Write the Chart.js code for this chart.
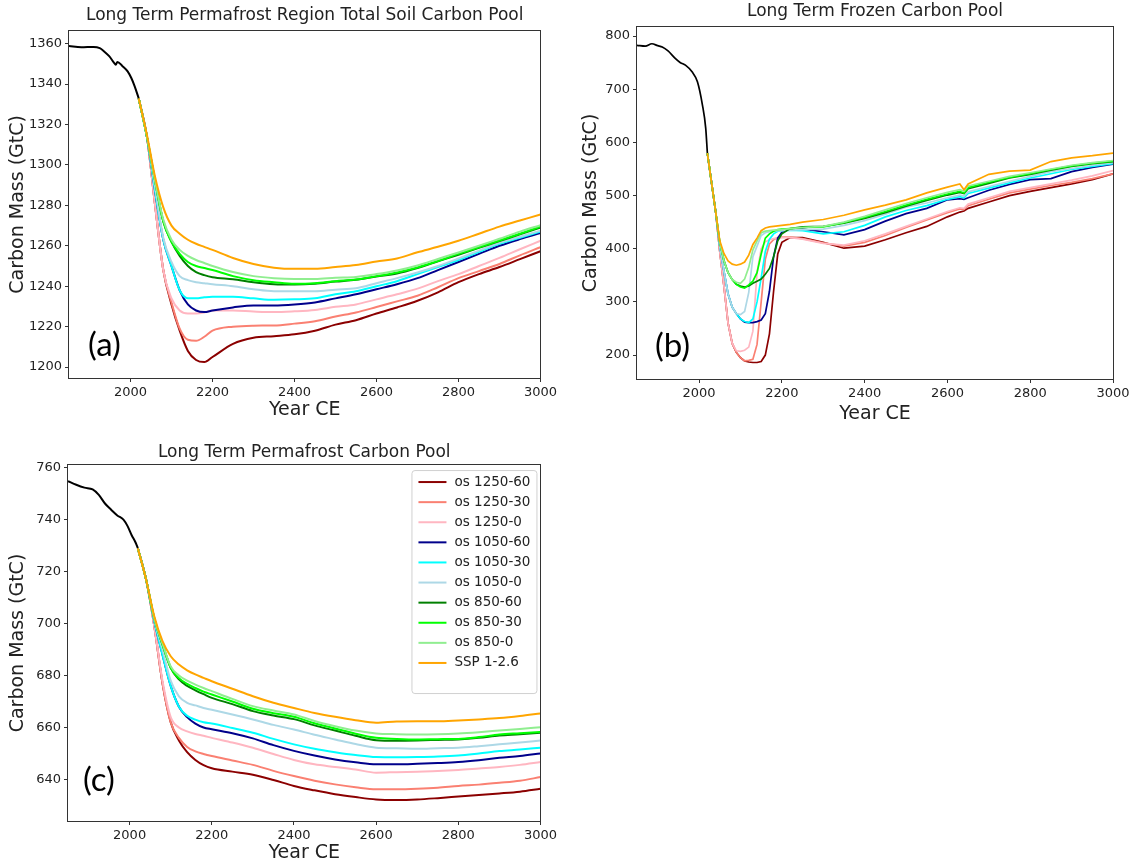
<!DOCTYPE html>
<html>
<head>
<meta charset="utf-8">
<title>Long Term Permafrost Carbon Pools</title>
<script src="https://cdn.jsdelivr.net/npm/chart.js@4.4.1/dist/chart.umd.min.js"></script>
<style>
body { margin: 0; background: #fff; }
#wrap { position: relative; width: 1137px; height: 865px; }
#wrap canvas { position: absolute; }
</style>
</head>
<body>
<div id="wrap">
<canvas id="chartA" width="560" height="425" style="left:0;top:0"></canvas>
<canvas id="chartB" width="567" height="430" style="left:570px;top:0"></canvas>
<canvas id="chartC" width="560" height="435" style="left:0;top:430px"></canvas>
</div>
<script>
// scenario names and colours, same order for all three panels
var labels = ['os 1250-60', 'os 1250-30', 'os 1250-0', 'os 1050-60', 'os 1050-30', 'os 1050-0',
              'os 850-60', 'os 850-30', 'os 850-0', 'SSP 1-2.6'];
var colors = ['#8b0000', '#fa8072', '#ffb6c1', '#00008b', '#00ffff', '#add8e6',
              '#008000', '#00ff00', '#90ee90', '#ffa500'];
var xTicks = [2000, 2200, 2400, 2600, 2800, 3000];

// (a) permafrost region total soil carbon (GtC)
var soilHistYears = [1850, 1880, 1910, 1925, 1935, 1948, 1960, 1964, 1968, 1980, 1993, 2002, 2010, 2020];
var soilHist = [1358.8, 1358.2, 1358.4, 1357.8, 1356.3, 1353.8, 1350.5, 1349.6, 1351, 1349, 1346.3, 1343, 1339, 1333];
var soilYears = [2020, 2040, 2060, 2080, 2100, 2120, 2140, 2160, 2180, 2200, 2250, 2300, 2350, 2400, 2450, 2500,
                 2550, 2600, 2650, 2700, 2750, 2800, 2850, 2900, 2950, 3000];
var soil1250_60 = [1333, 1314, 1280, 1248, 1231, 1218, 1208, 1203.5, 1202.5, 1205, 1211.5, 1214.5, 1215.3, 1216.2, 1218, 1221, 1223.2, 1226.5, 1229.5, 1232.8, 1237, 1242, 1246, 1249.5, 1253.4, 1257.3];
var soil1250_30 = [1333, 1314, 1280, 1248, 1232, 1219, 1213.5, 1213, 1215, 1218, 1220, 1220.5, 1220.6, 1221.5, 1222.7, 1225, 1227, 1229.7, 1232.5, 1235.3, 1239.5, 1244, 1247.5, 1251, 1255.3, 1259.3];
var soil1250_0 = [1333, 1314, 1280, 1248, 1234, 1228, 1226.5, 1226.5, 1227, 1228, 1228, 1227.5, 1227.2, 1227.6, 1228.3, 1229.8, 1231, 1233.5, 1236, 1238.8, 1242.5, 1246, 1250, 1254, 1258.3, 1262.5];
var soil1050_60 = [1333, 1314, 1287, 1263, 1250, 1238, 1231, 1228, 1227.2, 1228, 1229.5, 1230.5, 1230.5, 1231, 1232, 1234, 1236, 1238.5, 1241, 1244, 1248, 1252, 1256, 1260, 1263.3, 1266.3];
var soil1050_30 = [1333, 1314, 1287, 1263, 1250, 1238, 1234, 1234, 1234.5, 1234.8, 1234.8, 1234, 1233.3, 1233.5, 1234, 1236, 1237.5, 1240, 1242.5, 1246, 1249.5, 1253, 1257, 1261, 1264, 1267];
var soil1050_0 = [1333, 1314, 1289, 1264, 1252, 1245, 1243, 1242, 1241.5, 1241, 1240, 1238.5, 1237.5, 1237.5, 1237.5, 1238.3, 1239, 1241.5, 1244, 1246.8, 1250, 1253.7, 1257.6, 1261.5, 1264.5, 1267.5];
var soil850_60 = [1333, 1314, 1292, 1272, 1262, 1255, 1250, 1247, 1245.5, 1244.5, 1243.5, 1242, 1241, 1240.8, 1241.2, 1242.3, 1243.2, 1244.8, 1246.3, 1249, 1252.3, 1255.6, 1259, 1262.3, 1265.7, 1269];
var soil850_30 = [1333, 1314, 1292, 1272, 1262, 1256, 1252, 1250, 1249, 1248, 1245, 1243, 1242, 1241.2, 1241.5, 1242.5, 1243.3, 1245, 1246.8, 1249.3, 1252.5, 1256, 1259.3, 1262.6, 1266, 1269.5];
var soil850_0 = [1333, 1314, 1292, 1273, 1263, 1258, 1255, 1253, 1251.5, 1250, 1247, 1245, 1244, 1243.6, 1243.6, 1244.2, 1244.6, 1246, 1247.8, 1250.3, 1253.5, 1256.7, 1260, 1263.5, 1267, 1270.2];
var soilSsp = [1333, 1315, 1294, 1279, 1270, 1266, 1263, 1261, 1259.5, 1258, 1254, 1251, 1249.2, 1248.6, 1248.6, 1249.5, 1250.5, 1252.2, 1253.7, 1256.8, 1259.5, 1262.5, 1266, 1269.5, 1272.5, 1275.5];

// (b) frozen carbon (GtC)
var frozenHistYears = [1850, 1870, 1886, 1900, 1911, 1925, 1943, 1955, 1967, 1983, 1996, 2008, 2016, 2020];
var frozenHist = [782.6, 781, 785.6, 782, 779.5, 772, 757.7, 750, 745.3, 732.8, 714, 670.7, 627, 580];
var frozenYears = [2020, 2030, 2040, 2050, 2060, 2070, 2080, 2090, 2100, 2110, 2120, 2130, 2140, 2150, 2160, 2170,
                   2180, 2190, 2200, 2220, 2250, 2300, 2350, 2400, 2450, 2500, 2550, 2600, 2630, 2640, 2650, 2700,
                   2750, 2800, 2850, 2900, 2950, 3000];
var frozen1250_60 = [580, 525, 470, 395, 330, 260, 222, 205, 195, 189, 187, 186, 186, 188, 200, 240, 320, 390, 412, 421, 421, 412, 401, 405, 417, 430, 442, 460, 469, 471, 476, 488, 500, 508, 515, 522, 530, 541];
var frozen1250_30 = [580, 525, 470, 395, 330, 260, 222, 205, 195, 189, 190, 192, 220, 300, 380, 409, 417, 421, 422, 422, 419, 411, 405, 412, 425, 440, 454, 468, 475, 474, 481, 493, 505, 512, 519, 525, 532, 541];
var frozen1250_0 = [580, 525, 470, 395, 330, 260, 222, 208, 207, 209, 215, 245, 355, 400, 413, 417, 419, 420, 421, 421, 418, 410, 407, 415, 428, 442, 456, 470, 477, 476, 484, 496, 508, 515, 522, 529, 537, 547];
var frozen1050_60 = [580, 525, 470, 405, 358, 315, 290, 278, 268, 262, 261, 261, 263, 266, 278, 320, 385, 420, 431, 437, 437, 432, 426, 436, 452, 466, 476, 492, 494, 493, 496, 510, 521, 530, 532, 545, 553, 559];
var frozen1050_30 = [580, 525, 470, 405, 358, 315, 290, 278, 268, 263, 261, 268, 300, 345, 395, 418, 428, 433, 434, 435, 434, 428, 432, 444, 460, 472, 481, 493, 498, 496, 504, 514, 524, 533, 541, 549, 555, 560];
var frozen1050_0 = [580, 525, 470, 405, 358, 315, 290, 278, 276, 282, 318, 385, 405, 425, 430, 432, 433, 434, 434, 435, 436, 437, 444, 453, 465, 478, 486, 496, 501, 499, 507, 517, 527, 536, 545, 551, 557, 562];
var frozen850_60 = [580, 525, 470, 412, 378, 355, 342, 333, 330, 328, 330, 335, 339, 343, 352, 363, 385, 415, 428, 438, 441, 442, 448, 457, 468, 480, 491, 501, 506, 504, 513, 523, 533, 540, 548, 555, 560, 564];
var frozen850_30 = [580, 525, 470, 412, 378, 355, 342, 333, 328, 326, 332, 339, 355, 390, 420, 428, 433, 436, 437, 438, 440, 441, 449, 459, 470, 482, 493, 503, 508, 505, 515, 525, 534, 541, 549, 556, 561, 565];
var frozen850_0 = [580, 525, 470, 412, 378, 355, 342, 337, 335, 343, 365, 398, 415, 430, 433, 434, 435, 435.5, 436, 438, 440, 442, 450, 461, 473, 485, 496, 506, 511, 508, 518, 527, 536, 543, 550, 557, 562, 566];
var frozenSsp = [580, 525, 470, 415, 391, 377, 371, 369, 371, 375, 388, 408, 420, 434, 439, 441, 442, 443, 444, 446, 450, 455, 463, 473, 482, 492, 505, 516, 522, 511, 522, 540, 546, 548, 564, 571, 575, 580];

// (c) permafrost carbon (GtC)
var permaHistYears = [1850, 1870, 1890, 1910, 1925, 1940, 1955, 1970, 1985, 1995, 2005, 2015, 2020];
var permaHist = [754.8, 753.4, 752.3, 751.6, 749.5, 746.2, 743.8, 741.6, 740, 737.5, 734, 731, 729];
var permaYears = [2020, 2040, 2060, 2080, 2100, 2120, 2140, 2160, 2180, 2200, 2250, 2300, 2350, 2400, 2450, 2500,
                  2550, 2600, 2650, 2700, 2750, 2800, 2850, 2900, 2950, 3000];
var perma1250_60 = [729, 717, 699, 677, 662, 655, 650.5, 647.5, 645.5, 644.3, 643, 641.8, 639.8, 637.5, 635.8, 634.3, 633.2, 632.3, 632.1, 632.3, 632.8, 633.4, 634, 634.6, 635.3, 636.4];
var perma1250_30 = [729, 717, 699, 677, 662, 656, 652.5, 650.8, 649.8, 649, 647.3, 645.6, 643.3, 641.3, 639.5, 638.1, 637, 636.2, 636.2, 636.4, 636.8, 637.5, 638, 638.7, 639.5, 640.9];
var perma1250_0 = [729, 717, 699, 678, 664, 660, 658.5, 657.5, 656.8, 656, 654.2, 652.2, 649.8, 647.5, 645.8, 644.8, 643.8, 642.6, 642.8, 643, 643.2, 643.6, 644.2, 644.8, 645.6, 646.7];
var perma1050_60 = [729, 717, 701, 688, 676, 668, 664, 661.5, 660, 659.3, 657.8, 655.8, 653.2, 651, 649.2, 647.7, 646.6, 645.8, 645.8, 646, 646.3, 646.7, 647.4, 648.3, 649, 650];
var perma1050_30 = [729, 717, 701, 688, 676, 668, 664.5, 663, 662, 661.5, 659.8, 658, 655.6, 653.5, 651.8, 650.5, 649.4, 648.6, 648.5, 648.6, 648.8, 649.2, 650, 650.9, 651.5, 652.2];
var perma1050_0 = [729, 717, 701.5, 690, 678, 672, 669.5, 668.5, 667.5, 666.8, 665, 663.1, 661, 659.2, 657.2, 655.4, 653.6, 652.2, 652, 651.8, 652, 652.2, 652.8, 653.5, 654.2, 655];
var perma850_60 = [729, 717, 702, 692, 683, 678.5, 676, 674.3, 672.8, 671.4, 669, 666.3, 664.6, 663.2, 660.8, 658.8, 656.8, 655.1, 654.9, 655, 655.2, 655.4, 656, 656.9, 657.4, 658];
var perma850_30 = [729, 717, 702, 692, 683, 679, 676.8, 675.2, 673.8, 672.7, 670, 667.2, 665.5, 664.1, 661.6, 659.6, 657.6, 656, 655.6, 655.4, 655.5, 655.6, 656.3, 657.3, 657.8, 658.3];
var perma850_0 = [729, 717, 702, 692.3, 683.5, 680, 678, 676.5, 675.2, 674, 671, 668.2, 666.5, 665, 662.5, 660.5, 658.8, 657.7, 657.4, 657.3, 657.4, 657.7, 658.2, 658.8, 659.4, 660.1];
var permaSsp = [729, 717, 702.8, 693.2, 687.4, 684.2, 682, 680.4, 679.1, 677.8, 674.9, 672, 669.5, 667.5, 665.6, 664.1, 662.8, 661.8, 662.3, 662.4, 662.4, 662.7, 663.1, 663.6, 664.4, 665.4];

var font = 'DejaVu Sans';

function makeSeries(years, values) {
    var pts = [];
    for (var i = 0; i < years.length; i++) {
        pts.push({x: years[i], y: values[i]});
    }
    return pts;
}

// box round the plot area (all four sides)
var frame = {
    id: 'frame',
    afterDraw: function(chart) {
        var a = chart.chartArea, ctx = chart.ctx;
        ctx.save();
        ctx.strokeStyle = '#333';
        ctx.lineWidth = 1;
        ctx.strokeRect(Math.round(a.left) - 0.5, Math.round(a.top) - 0.5,
                       Math.round(a.right - a.left) + 1, Math.round(a.bottom - a.top) + 1);
        ctx.restore();
    }
};

// big (a)/(b)/(c) letter in the lower left corner
var panelTag = {
    id: 'panelTag',
    afterDraw: function(chart, args, opts) {
        if (!opts.text) return;
        var a = chart.chartArea, ctx = chart.ctx;
        ctx.save();
        ctx.fillStyle = '#000';
        ctx.font = '33px Lato';
        ctx.textBaseline = 'middle';
        ctx.fillText(opts.text, a.left + opts.dx, a.bottom - opts.dy);
        ctx.restore();
    }
};

// legend box inside the top right corner of the plot area
var legendBox = {
    id: 'legendBox',
    afterDraw: function(chart, args, opts) {
        if (!opts.show) return;
        var a = chart.chartArea, ctx = chart.ctx;
        var items = chart.data.datasets.filter(function(d) { return d.label; });
        var rowH = 20.1, w = 125, h = items.length * rowH + 22;
        var x0 = a.right - 4 - w, y0 = a.top + 5;
        ctx.save();
        ctx.fillStyle = 'rgba(255,255,255,0.8)';
        ctx.strokeStyle = '#d0d0d0';
        ctx.lineWidth = 1;
        ctx.beginPath();
        ctx.roundRect(x0 + 0.5, y0 + 0.5, w, h, 3);
        ctx.fill();
        ctx.stroke();
        ctx.font = '13.5px ' + font;
        ctx.textBaseline = 'middle';
        for (var i = 0; i < items.length; i++) {
            var y = y0 + 12 + rowH * i;
            ctx.strokeStyle = items[i].borderColor;
            ctx.lineWidth = 2;
            ctx.beginPath();
            ctx.moveTo(x0 + 7, y);
            ctx.lineTo(x0 + 35, y);
            ctx.stroke();
            ctx.fillStyle = '#222';
            ctx.fillText(items[i].label, x0 + 43, y);
        }
        ctx.restore();
    }
};

function makeChart(id, cfg) {
    var datasets = [];
    for (var i = 0; i < cfg.series.length; i++) {
        datasets.push({
            label: labels[i],
            data: makeSeries(cfg.years, cfg.series[i]),
            borderColor: colors[i],
            borderWidth: cfg.lineWidth,
            pointRadius: 0,
            cubicInterpolationMode: cfg.smooth ? 'monotone' : 'default',
            tension: 0,
            order: cfg.series.length - i
        });
    }
    datasets.push({
        label: '',
        data: makeSeries(cfg.histYears, cfg.hist),
        borderColor: '#000',
        borderWidth: cfg.lineWidth,
        pointRadius: 0,
        cubicInterpolationMode: 'monotone',
        order: 0
    });

    return new Chart(document.getElementById(id), {
        type: 'line',
        data: {datasets: datasets},
        plugins: [frame, panelTag, legendBox],
        options: {
            responsive: false,
            animation: false,
            layout: {padding: {left: 0, right: cfg.padRight, top: 0, bottom: 0}},
            plugins: {
                legend: {display: false},
                tooltip: {enabled: false},
                title: {
                    display: true,
                    text: cfg.title,
                    fullSize: false,
                    color: '#222',
                    font: {family: font, size: 17, weight: 'normal', lineHeight: 1.25},
                    padding: {top: cfg.titleTop, bottom: cfg.titleBottom}
                },
                panelTag: {text: cfg.tag, dx: cfg.tagX, dy: cfg.tagY},
                legendBox: {show: !!cfg.legend}
            },
            scales: {
                x: {
                    type: 'linear',
                    min: 1850,
                    max: 3000,
                    afterBuildTicks: function(s) {
                        s.ticks = xTicks.map(function(v) { return {value: v}; });
                    },
                    afterFit: function(s) { s.height = cfg.xHeight; },
                    border: {display: false},
                    grid: {drawOnChartArea: false, tickLength: 4, color: '#333'},
                    ticks: {
                        color: '#222', padding: 3, maxRotation: 0,
                        font: {family: font, size: 13},
                        callback: function(v) { return String(v); }
                    },
                    title: {
                        display: true, text: 'Year CE', color: '#222',
                        font: {family: font, size: 19, lineHeight: 1.2},
                        padding: {top: 0, bottom: cfg.xTitlePad}
                    }
                },
                y: {
                    type: 'linear',
                    min: cfg.yMin,
                    max: cfg.yMax,
                    afterBuildTicks: function(s) {
                        s.ticks = cfg.yTicks.map(function(v) { return {value: v}; });
                    },
                    afterFit: function(s) { s.width = cfg.yWidth; },
                    border: {display: false},
                    grid: {drawOnChartArea: false, tickLength: 4, color: '#333'},
                    ticks: {
                        color: '#222', padding: 3,
                        font: {family: font, size: 13},
                        callback: function(v) { return String(v); }
                    },
                    title: {
                        display: true, text: 'Carbon Mass (GtC)', color: '#222',
                        font: {family: font, size: 19, lineHeight: 1.2},
                        padding: {top: cfg.yTitlePad, bottom: 0}
                    }
                }
            }
        }
    });
}

makeChart('chartA', {
    title: 'Long Term Permafrost Region Total Soil Carbon Pool',
    years: soilYears,
    series: [soil1250_60, soil1250_30, soil1250_0, soil1050_60, soil1050_30, soil1050_0,
             soil850_60, soil850_30, soil850_0, soilSsp],
    histYears: soilHistYears, hist: soilHist,
    yMin: 1194.6, yMax: 1366.4,
    yTicks: [1200, 1220, 1240, 1260, 1280, 1300, 1320, 1340, 1360],
    lineWidth: 2, smooth: true,
    padRight: 19, yWidth: 69, xHeight: 47,
    titleTop: 5, titleBottom: 4.5, yTitlePad: 6.5, xTitlePad: 3.5,
    tag: '(a)', tagX: 19, tagY: 33
});

makeChart('chartB', {
    title: 'Long Term Frozen Carbon Pool',
    years: frozenYears,
    series: [frozen1250_60, frozen1250_30, frozen1250_0, frozen1050_60, frozen1050_30, frozen1050_0,
             frozen850_60, frozen850_30, frozen850_0, frozenSsp],
    histYears: frozenHistYears, hist: frozenHist,
    yMin: 155, yMax: 817,
    yTicks: [200, 300, 400, 500, 600, 700, 800],
    lineWidth: 1.7, smooth: false,
    padRight: 24, yWidth: 67, xHeight: 51,
    titleTop: 0.5, titleBottom: 5.3, yTitlePad: 9.5, xTitlePad: 4.5,
    tag: '(b)', tagX: 18, tagY: 33
});

makeChart('chartC', {
    title: 'Long Term Permafrost Carbon Pool',
    years: permaYears,
    series: [perma1250_60, perma1250_30, perma1250_0, perma1050_60, perma1050_30, perma1050_0,
             perma850_60, perma850_30, perma850_0, permaSsp],
    histYears: permaHistYears, hist: permaHist,
    yMin: 624, yMax: 761,
    yTicks: [640, 660, 680, 700, 720, 740, 760],
    lineWidth: 2, smooth: true,
    padRight: 19, yWidth: 68, xHeight: 44,
    titleTop: 11.5, titleBottom: 2.3, yTitlePad: 6.5, xTitlePad: 0.5,
    tag: '(c)', tagX: 15, tagY: 41,
    legend: true
});
</script>
</body>
</html>
